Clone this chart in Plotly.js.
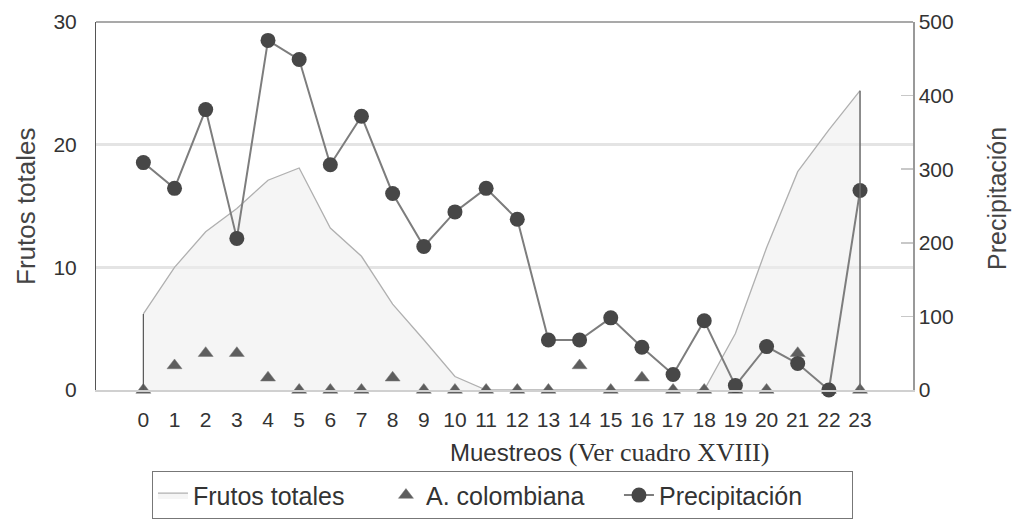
<!DOCTYPE html>
<html>
<head>
<meta charset="utf-8">
<script src="https://cdn.plot.ly/plotly-3.0.1.min.js"></script>
<style>
html,body{margin:0;padding:0;background:#fff;}
#chart{width:1014px;height:531px;}
</style>
</head>
<body>
<div id="chart"></div>
<script>
// Muestreos (categorías)
var muestreos = [0,1,2,3,4,5,6,7,8,9,10,11,12,13,14,15,16,17,18,19,20,21,22,23];
// Frutos totales (eje izquierdo)
var frutosTotales = [6.2,10,12.9,14.8,17.1,18.1,13.2,10.9,7.0,4.1,1.1,0,0,0,0,0,0,0,0,4.6,11.6,17.8,21.2,24.4];
// A. colombiana (eje izquierdo)
var aColombiana = [0,2,3,3,1,0,0,0,1,0,0,0,0,0,2,0,1,0,0,0,0,3,0,0];
// Precipitación (eje derecho)
var precipitacion = [309,274,381,206,475,449,306,372,267,195,242,274,232,68,68,98,58,21,94,6,59,36,0,271];
// Etiquetas
var tickLabels = muestreos.map(String);
var leftTicks = [0, 10, 20, 30];
var rightTicks = [0, 100, 200, 300, 400, 500];

var FONT = 'Liberation Sans, Arial, sans-serif';
var SERIF = 'Liberation Serif, Times New Roman, serif';
var last = muestreos.length - 1;

var traces = [
  {
    name: 'Frutos totales',
    x: muestreos, y: frutosTotales,
    type: 'scatter', mode: 'lines',
    fill: 'tozeroy',
    fillcolor: 'rgba(236,236,236,0.55)',
    line: {color: '#b0b0b0', width: 1.3},
    yaxis: 'y'
  },
  {
    name: 'A. colombiana',
    x: muestreos, y: aColombiana,
    type: 'scatter', mode: 'markers',
    cliponaxis: false,
    marker: {symbol: 'triangle-up', size: 13, color: '#5e5e5e',
             line: {color: '#777', width: 0.5}},
    yaxis: 'y'
  },
  {
    name: 'Precipitación',
    x: muestreos, y: precipitacion,
    type: 'scatter', mode: 'lines+markers',
    cliponaxis: false,
    line: {color: '#7d7d7d', width: 2},
    marker: {symbol: 'circle', size: 15, color: '#474747'},
    yaxis: 'y2'
  }
];

var layout = {
  width: 1014, height: 531,
  margin: {l: 96, r: 101, t: 22, b: 138},
  paper_bgcolor: '#ffffff',
  plot_bgcolor: '#ffffff',
  font: {family: FONT, color: '#333', size: 21},
  showlegend: true,
  xaxis: {
    type: 'linear',
    range: [-1.52, 24.7],
    tickmode: 'array', tickvals: muestreos, ticktext: tickLabels,
    showgrid: false, zeroline: false,
    showline: true, linecolor: '#d0d0d0', linewidth: 2,
    ticks: 'outside', ticklen: 10, tickcolor: 'rgba(0,0,0,0)',
    tickfont: {size: 21, color: '#333'},
    fixedrange: true
  },
  yaxis: {
    range: [0, 30],
    tickmode: 'array', tickvals: leftTicks,
    showgrid: true, gridcolor: '#e4e4e4', gridwidth: 3,
    zeroline: false,
    showline: true, linecolor: '#555', linewidth: 1,
    ticks: 'outside', ticklen: 14, tickcolor: 'rgba(0,0,0,0)',
    tickfont: {size: 21, color: '#333'}
  },
  yaxis2: {
    range: [0, 500],
    tickmode: 'array', tickvals: rightTicks,
    overlaying: 'y', side: 'right',
    showgrid: false, zeroline: false,
    showline: true, linecolor: '#999', linewidth: 1.5,
    ticks: 'inside', ticklen: 12, tickcolor: '#c8c8c8', tickwidth: 1.5,
    tickfont: {size: 21, color: '#333'}
  },
  shapes: [
    {type: 'line', xref: 'paper', yref: 'paper', x0: 0, x1: 1, y0: 1, y1: 1,
     line: {color: '#555', width: 1.2}},
    {type: 'line', xref: 'x', yref: 'y', x0: muestreos[last], x1: muestreos[last],
     y0: 0, y1: frutosTotales[last], line: {color: '#6a6a6a', width: 1.5}},
    {type: 'line', xref: 'x', yref: 'y', x0: muestreos[0], x1: muestreos[0],
     y0: 0, y1: frutosTotales[0], line: {color: '#555', width: 1.2}}
  ],
  annotations: [
    {xref: 'paper', yref: 'paper', x: 0.629, y: -0.170, xanchor: 'center', yanchor: 'middle',
     showarrow: false,
     text: 'Muestreos <span style="font-family:' + SERIF + ';font-size:26px">(Ver cuadro XVIII)</span>',
     font: {size: 24, color: '#333', family: FONT}},
    {xref: 'paper', yref: 'paper', x: -0.0857, y: 0.50, xanchor: 'center', yanchor: 'middle',
     showarrow: false, textangle: -90,
     text: 'Frutos totales',
     font: {size: 26, color: '#444', family: FONT}},
    {xref: 'paper', yref: 'paper', x: 1.102, y: 0.52, xanchor: 'center', yanchor: 'middle',
     showarrow: false, textangle: -90,
     text: 'Precipitación',
     font: {size: 25, color: '#444', family: FONT}}
  ],
  legend: {
    orientation: 'h',
    x: 0.0685, xanchor: 'left',
    y: -0.221, yanchor: 'top',
    bgcolor: '#ffffff',
    bordercolor: '#777', borderwidth: 1,
    font: {size: 25, color: '#333', family: FONT},
    entrywidth: 188, entrywidthmode: 'pixels'
  }
};

Plotly.newPlot('chart', traces, layout, {displayModeBar: false, staticPlot: true});
</script>
</body>
</html>
